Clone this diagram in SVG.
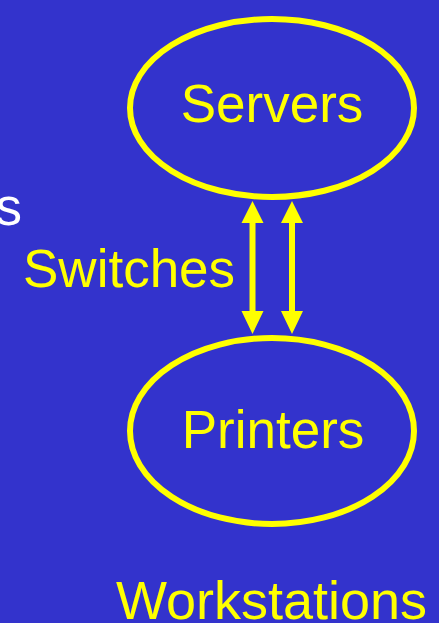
<svg xmlns="http://www.w3.org/2000/svg" width="439" height="623" viewBox="0 0 439 623">
<style>
.bg{fill:#3333CC}
.node{fill:none;stroke:#FFFF00;stroke-width:6}
.lbl{font-family:"Liberation Sans",Arial,sans-serif;font-size:53px;fill:#FFFF00}
.white{fill:#FFFFFF}
.arr{fill:#FFFF00}
</style>
<rect class="bg" x="0" y="0" width="439" height="623"/>
<g id="servers">
<ellipse class="node" cx="272" cy="108" rx="142" ry="89"/>
<text class="lbl" x="272" y="122" text-anchor="middle">Servers</text>
</g>
<g id="printers">
<ellipse class="node" cx="272" cy="431" rx="142" ry="93"/>
<text class="lbl" x="273" y="448" text-anchor="middle">Printers</text>
</g>
<g id="switches">
<text class="lbl" x="23" y="287">Switches</text>
</g>
<g id="clipped-label">
<text class="lbl white" x="22" y="225" text-anchor="end">s</text>
</g>
<g id="workstations">
<text class="lbl" x="116" y="619" style="font-size:54px">Workstations</text>
</g>
<g id="connectors">
<path class="arr" d="M252.5,201 L263.5,223 L255.5,223 L255.5,311 L263.5,311 L252.5,334 L241.5,311 L249.5,311 L249.5,223 L241.5,223 Z"/>
<path class="arr" d="M292,201 L303,223 L295,223 L295,311 L303,311 L292,334 L281,311 L289,311 L289,223 L281,223 Z"/>
</g>
</svg>
